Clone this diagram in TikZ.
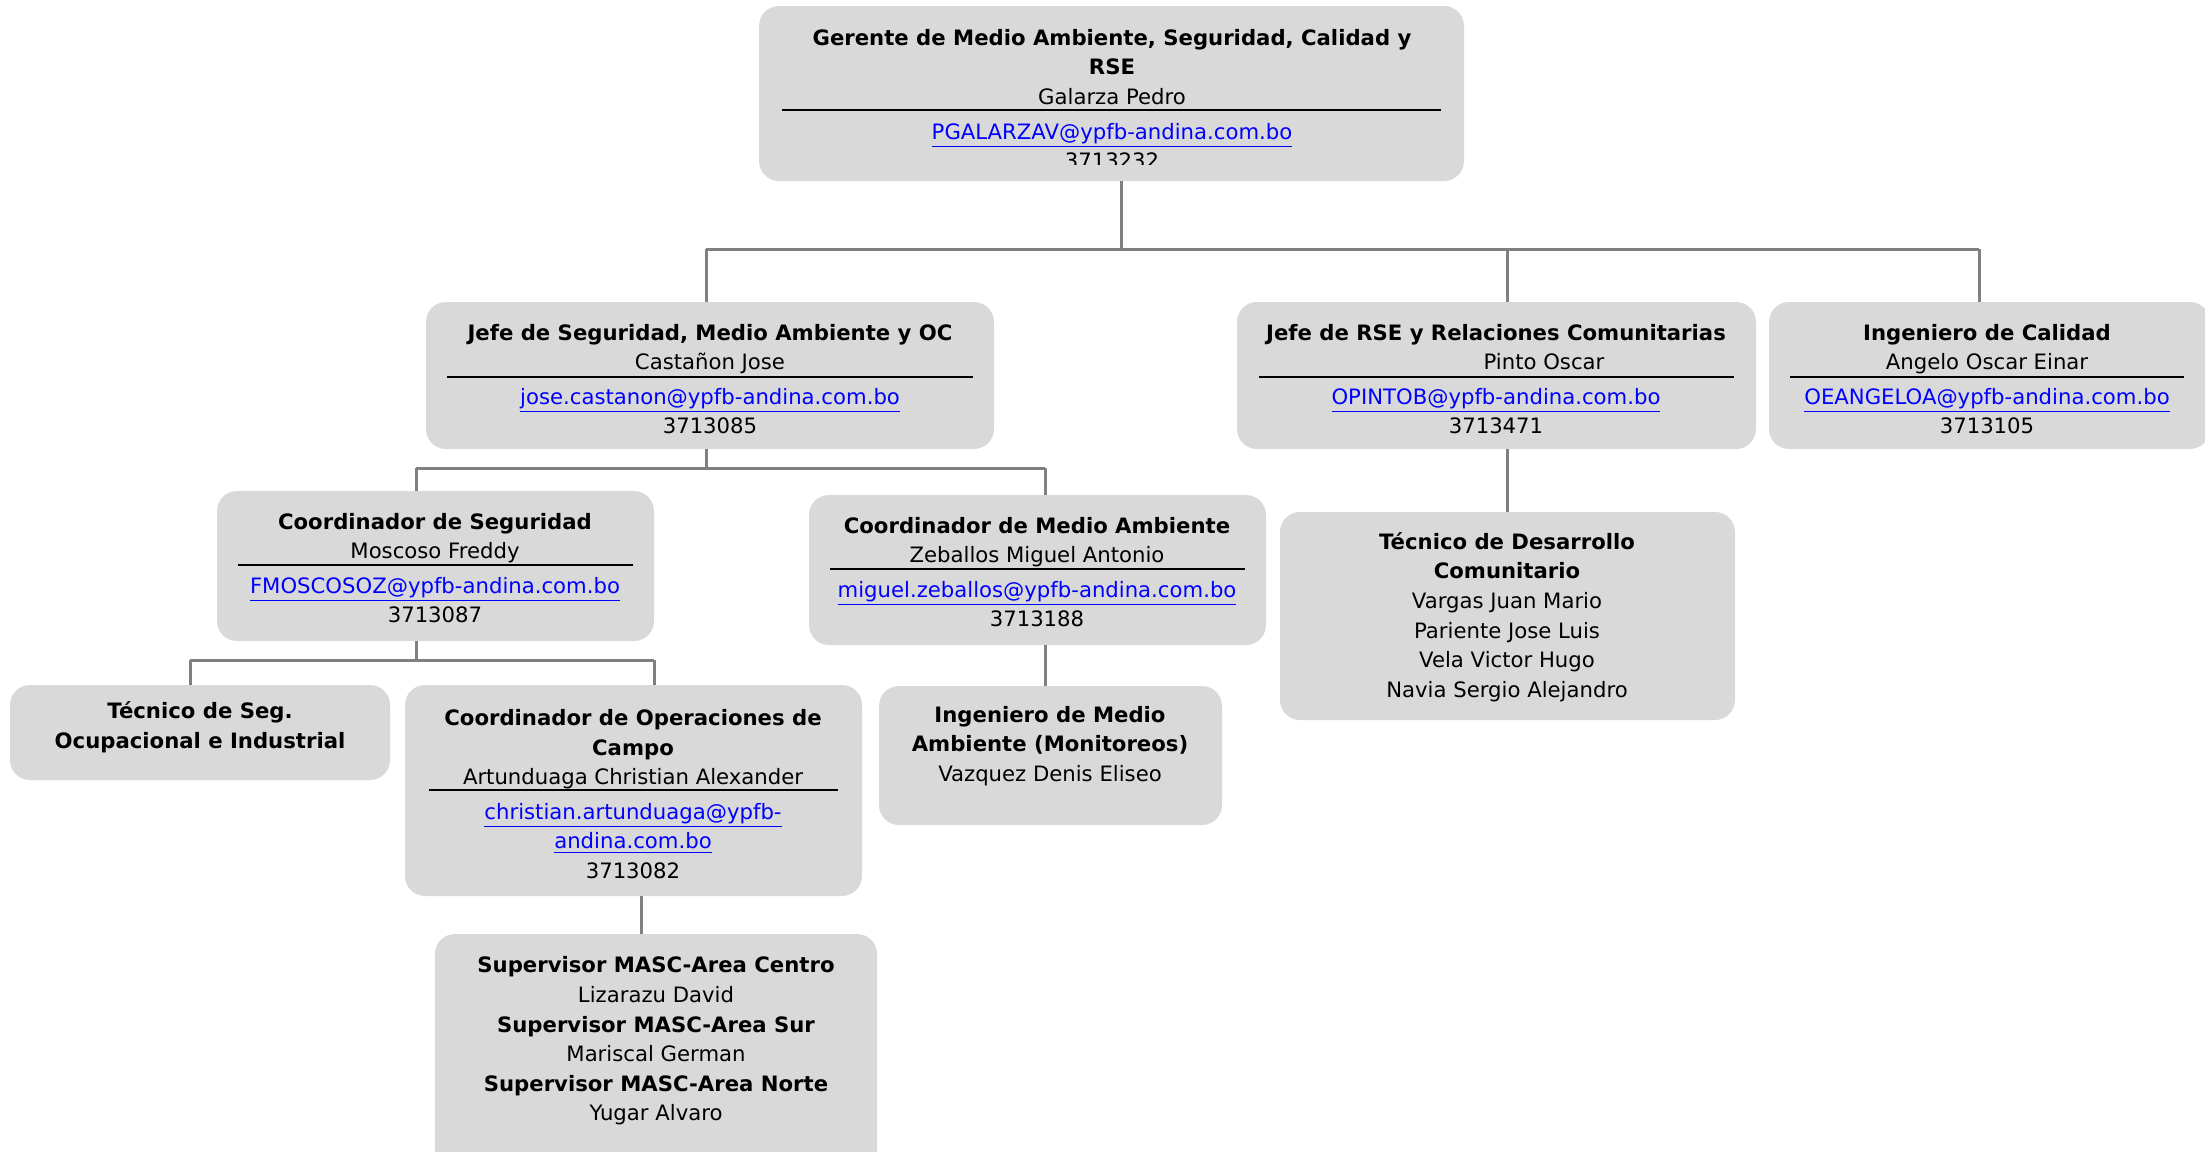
\documentclass[tikz,border=0pt]{standalone}
\usepackage{fontspec}
\setmainfont{DejaVu Sans}
\usepackage{xcolor}
\usetikzlibrary{positioning,fit}

\definecolor{boxgray}{HTML}{D9D9D9}
\definecolor{linegray}{HTML}{808080}
\definecolor{linkblue}{HTML}{0000FF}
\newcommand{\mail}[1]{\textcolor{linkblue}{\underline{#1}}}

\tikzset{
  box/.style={draw=none, fill=boxgray, rounded corners=10pt, inner sep=0pt},
  txt/.style={align=center, inner sep=0pt, font=\fontsize{10.6}{14.8}\selectfont},
  conn/.style={draw=linegray, line width=1.5pt},
  rule/.style={draw=black, line width=1pt}
}

\begin{document}
\begin{tikzpicture}[x=0.5pt, y=-0.5pt]
    \useasboundingbox (0,0) rectangle (2205,1151);

    % boxes
    \node[box, fit={(759,6) (1464,181)}] (top) {};
    \node[box, fit={(426,302) (994,449)}] (jseg) {};
    \node[box, fit={(1237,302) (1756,449)}] (jrse) {};
    \node[box, fit={(1769,302) (2210,449)}] (ical) {};
    \node[box, fit={(217,491) (654,641)}] (cseg) {};
    \node[box, fit={(809,495) (1266,645)}] (cma) {};
    \node[box, fit={(10,685) (390,780)}] (tseg) {};
    \node[box, fit={(405,685) (862,896)}] (cops) {};
    \node[box, fit={(435,934) (877,1170)}] (sup) {};
    \node[box, fit={(879,686) (1222,825)}] (ima) {};
    \node[box, fit={(1280,512) (1735,720)}] (tdes) {};

    % connectors
    \coordinate (t0) at (1121,249);
    \coordinate (t1) at (706,249);
    \coordinate (t2) at (1507,249);
    \coordinate (t3) at (1979,249);
    \draw[conn] (top.south -| t0) -- (t0);
    \draw[conn] (t1) -- (t3);
    \draw[conn] (t1) -- (jseg.north -| t1);
    \draw[conn] (t2) -- (jrse.north -| t2);
    \draw[conn] (t3) -- (ical.north -| t3);

    \coordinate (s0) at (706,468);
    \coordinate (s1) at (416,468);
    \coordinate (s2) at (1045,468);
    \draw[conn] (jseg.south -| s0) -- (s0);
    \draw[conn] (s1) -- (s2);
    \draw[conn] (s1) -- (cseg.north -| s1);
    \draw[conn] (s2) -- (cma.north -| s2);

    \coordinate (c0) at (416,660);
    \coordinate (c1) at (190,660);
    \coordinate (c2) at (654,660);
    \draw[conn] (cseg.south -| c0) -- (c0);
    \draw[conn] (c1) -- (c2);
    \draw[conn] (c1) -- (tseg.north -| c1);
    \draw[conn] (c2) -- (cops.north -| c2);

    \coordinate (o0) at (641,0);
    \draw[conn] (cops.south -| o0) -- (sup.north -| o0);
    \coordinate (m0) at (1045,0);
    \draw[conn] (cma.south -| m0) -- (ima.north -| m0);
    \draw[conn] (jrse.south -| t2) -- (tdes.north -| t2);

    % texts
    \begin{scope}
      \clip (759,6) rectangle (1464,164);
      \node[txt] (top-t) at (1112,99) {\textbf{Gerente de Medio Ambiente, Seguridad, Calidad y}\\
        \textbf{RSE}\\ Galarza Pedro\\[2.5pt] \mail{PGALARZAV@ypfb-andina.com.bo}\\ 3713232};
    \end{scope}
    \draw[rule] (782,110) -- (1441,110);

    \node[txt] (jseg-t) at (710,379) {\textbf{Jefe de Seguridad, Medio Ambiente y OC}\\
      Castañon Jose\\[2.5pt] \mail{jose.castanon@ypfb-andina.com.bo}\\ 3713085};
    \draw[rule] (447,377) -- (973,377);

    \node[txt] (jrse-t) at (1496,379) {\textbf{Jefe de RSE y Relaciones Comunitarias}\\
      \hspace*{48pt}Pinto Oscar\\[2.5pt] \mail{OPINTOB@ypfb-andina.com.bo}\\ 3713471};
    \draw[rule] (1259,377) -- (1734,377);

    \node[txt] (ical-t) at (1987,379) {\textbf{Ingeniero de Calidad}\\
      Angelo Oscar Einar\\[2.5pt] \mail{OEANGELOA@ypfb-andina.com.bo}\\ 3713105};
    \draw[rule] (1790,377) -- (2184,377);

    \node[txt] (cseg-t) at (435,568) {\textbf{Coordinador de Seguridad}\\
      Moscoso Freddy\\[2.5pt] \mail{FMOSCOSOZ@ypfb-andina.com.bo}\\ 3713087};
    \draw[rule] (238,565) -- (633,565);

    \node[txt] (cma-t) at (1037,572) {\textbf{Coordinador de Medio Ambiente}\\
      Zeballos Miguel Antonio\\[2.5pt] \mail{miguel.zeballos@ypfb-andina.com.bo}\\ 3713188};
    \draw[rule] (830,569) -- (1245,569);

    \node[txt] (tseg-t) at (200,727) {\textbf{Técnico de Seg.}\\ \textbf{Ocupacional e Industrial}};

    \node[txt] (cops-t) at (633,794) {\textbf{Coordinador de Operaciones de}\\ \textbf{Campo}\\
      Artunduaga Christian Alexander\\[2.5pt] \mail{christian.artunduaga@ypfb-}\\
      \mail{andina.com.bo}\\ 3713082};
    \draw[rule] (429,790) -- (838,790);

    \node[txt] (sup-t) at (656,1041) {\textbf{Supervisor MASC-Area Centro}\\ Lizarazu David\\
      \textbf{Supervisor MASC-Area Sur}\\ Mariscal German\\
      \textbf{Supervisor MASC-Area Norte}\\ Yugar Alvaro};

    \node[txt] (ima-t) at (1050,746) {\textbf{Ingeniero de Medio}\\
      \textbf{Ambiente (Monitoreos)}\\ Vazquez Denis Eliseo};

    \node[txt] (tdes-t) at (1507,617) {\textbf{Técnico de Desarrollo}\\ \textbf{Comunitario}\\
      Vargas Juan Mario\\ Pariente Jose Luis\\ Vela Victor Hugo\\ Navia Sergio Alejandro};
  \end{tikzpicture}
\end{document}
